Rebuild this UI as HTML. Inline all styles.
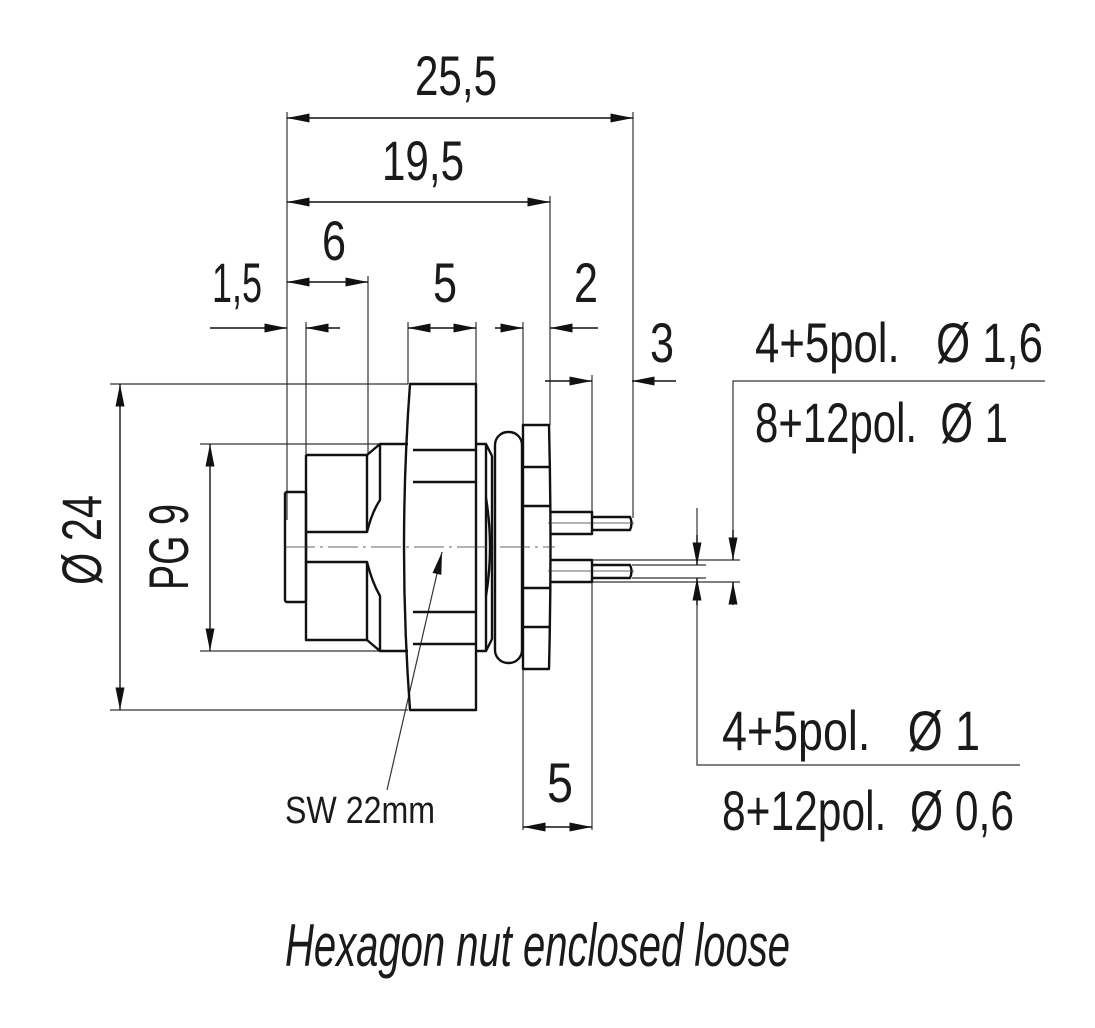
<!DOCTYPE html>
<html><head><meta charset="utf-8"><style>
html,body{margin:0;padding:0;background:#fff}
svg{display:block}
text{font-family:"Liberation Sans",sans-serif;fill:#1a1a1a;white-space:pre}
</style></head><body>
<svg width="1095" height="1028" viewBox="0 0 1095 1028" xmlns="http://www.w3.org/2000/svg">
<defs>
<marker id="a" viewBox="0 0 10 4" refX="10" refY="2" markerWidth="24" markerHeight="9" markerUnits="userSpaceOnUse" orient="auto"><path d="M0,0L10,2L0,4z" fill="#111"/></marker>
</defs>
<g stroke="#333" stroke-width="1.2" fill="none">
<line x1="287" y1="112" x2="287" y2="520"/>
<line x1="633" y1="112" x2="633" y2="518"/>
<line x1="550" y1="196" x2="550" y2="425"/>
<line x1="306" y1="322" x2="306" y2="492"/>
<line x1="368" y1="276" x2="368" y2="455"/>
<line x1="408" y1="322" x2="408" y2="384"/>
<line x1="476" y1="322" x2="476" y2="444"/>
<line x1="523" y1="322" x2="523" y2="425"/>
<line x1="592" y1="375" x2="592" y2="512"/>
<line x1="523" y1="669" x2="523" y2="830"/>
<line x1="592" y1="582" x2="592" y2="830"/>
<line x1="110" y1="384" x2="408" y2="384"/>
<line x1="110" y1="710" x2="408" y2="710"/>
<line x1="200" y1="444" x2="380" y2="444"/>
<line x1="200" y1="651" x2="380" y2="651"/>
<line x1="592" y1="560" x2="740" y2="560"/>
<line x1="592" y1="582" x2="740" y2="582"/>
<line x1="632" y1="565" x2="706" y2="565"/>
<line x1="632" y1="578" x2="706" y2="578"/>
<polyline points="1045,381 733,381 733,560"/>
<line x1="733" y1="582" x2="733" y2="600"/>
<line x1="697" y1="508" x2="697" y2="565"/>
<polyline points="697,578 697,765 1020,765"/>
<line x1="387" y1="790" x2="442" y2="552" marker-end="url(#a)"/>
</g>
<g stroke="#111" stroke-width="1.4" fill="none">
<line x1="460" y1="118" x2="633" y2="118" marker-end="url(#a)"/>
<line x1="460" y1="118" x2="287" y2="118" marker-end="url(#a)"/>
<line x1="420" y1="202" x2="550" y2="202" marker-end="url(#a)"/>
<line x1="420" y1="202" x2="287" y2="202" marker-end="url(#a)"/>
<line x1="330" y1="282" x2="368" y2="282" marker-end="url(#a)"/>
<line x1="330" y1="282" x2="287" y2="282" marker-end="url(#a)"/>
<line x1="210" y1="328" x2="287" y2="328" marker-end="url(#a)"/>
<line x1="340" y1="328" x2="306" y2="328" marker-end="url(#a)"/>
<line x1="442" y1="328" x2="408" y2="328" marker-end="url(#a)"/>
<line x1="442" y1="328" x2="476" y2="328" marker-end="url(#a)"/>
<line x1="495" y1="328" x2="523" y2="328" marker-end="url(#a)"/>
<line x1="598" y1="328" x2="550" y2="328" marker-end="url(#a)"/>
<line x1="545" y1="381" x2="592" y2="381" marker-end="url(#a)"/>
<line x1="676" y1="381" x2="632" y2="381" marker-end="url(#a)"/>
<line x1="557" y1="827" x2="523" y2="827" marker-end="url(#a)"/>
<line x1="557" y1="827" x2="592" y2="827" marker-end="url(#a)"/>
<line x1="120" y1="547" x2="120" y2="384" marker-end="url(#a)"/>
<line x1="120" y1="547" x2="120" y2="710" marker-end="url(#a)"/>
<line x1="210" y1="547" x2="210" y2="444" marker-end="url(#a)"/>
<line x1="210" y1="547" x2="210" y2="651" marker-end="url(#a)"/>
<line x1="733" y1="530" x2="733" y2="560" marker-end="url(#a)"/>
<line x1="733" y1="605" x2="733" y2="582" marker-end="url(#a)"/>
<line x1="697" y1="535" x2="697" y2="565" marker-end="url(#a)"/>
<line x1="697" y1="605" x2="697" y2="578" marker-end="url(#a)"/>
</g>
<g stroke="#111" stroke-width="2.4" fill="none" stroke-linejoin="round">
<rect x="285" y="492" width="21" height="110" rx="2"/>
<path d="M306,455 H367 L380,444 H408 M306,455 V640 H367 L380,651 H408"/>
<path d="M367,455 V532 H306 M367,640 V562 H306"/>
<path d="M380,444 V500 Q372,512 367,532 M380,651 V596 Q372,582 367,562"/>
<path d="M410,384 H476 V710 H410 Q398,547 410,384 Z"/>
<path d="M413,450 H476 M413,482 H476 M413,612 H476 M413,644 H476"/>
<path d="M476,444 H486 L492,456 V639 L486,651 H476 M486,444 V651"/>
<path d="M486,498 Q494,547 486,596"/>
<rect x="495" y="432" width="27" height="231" rx="13"/>
<path d="M523,425 H549 Q552,547 549,669 H523 Z"/>
<path d="M523,467 H549 M523,506 H550 M523,588 H550 M523,627 H549"/>
<path d="M550,512 H592 V534 H550 M592,517 H630 Q633,523 630,530 H592"/>
<path d="M550,560 H592 V582 H550 M592,565 H630 Q633,571 630,578 H592"/>
</g>
<g stroke="#333" stroke-width="0.8" fill="none">
<line x1="285" y1="547" x2="555" y2="547" stroke-dasharray="30,5,3,5"/>
<line x1="548" y1="523" x2="634" y2="523"/>
<line x1="548" y1="571" x2="634" y2="571"/>
</g>
<g font-size="56">
<text x="415" y="95" textLength="82" lengthAdjust="spacingAndGlyphs">25,5</text>
<text x="382" y="180" textLength="82" lengthAdjust="spacingAndGlyphs">19,5</text>
<text x="322" y="260" textLength="24" lengthAdjust="spacingAndGlyphs">6</text>
<text x="212" y="302" textLength="50" lengthAdjust="spacingAndGlyphs">1,5</text>
<text x="433" y="302" textLength="24" lengthAdjust="spacingAndGlyphs">5</text>
<text x="574" y="302" textLength="24" lengthAdjust="spacingAndGlyphs">2</text>
<text x="650" y="362" textLength="24" lengthAdjust="spacingAndGlyphs">3</text>
<text x="547" y="802" textLength="26" lengthAdjust="spacingAndGlyphs">5</text>
<text x="755" y="362" textLength="288" lengthAdjust="spacingAndGlyphs">4+5pol.   Ø 1,6</text>
<text x="755" y="442" textLength="253" lengthAdjust="spacingAndGlyphs">8+12pol.  Ø 1</text>
<text x="722" y="750" textLength="258" lengthAdjust="spacingAndGlyphs">4+5pol.   Ø 1</text>
<text x="722" y="830" textLength="292" lengthAdjust="spacingAndGlyphs">8+12pol.  Ø 0,6</text>
<text transform="translate(101,585) rotate(-90)" textLength="90" lengthAdjust="spacingAndGlyphs">Ø 24</text>
<text transform="translate(188,590) rotate(-90)" textLength="86" lengthAdjust="spacingAndGlyphs">PG 9</text>
</g>
<text x="285" y="823" font-size="38" textLength="150" lengthAdjust="spacingAndGlyphs">SW 22mm</text>
<text x="285" y="966" font-size="60" font-style="italic" textLength="505" lengthAdjust="spacingAndGlyphs">Hexagon nut enclosed loose</text>
</svg>
</body></html>
